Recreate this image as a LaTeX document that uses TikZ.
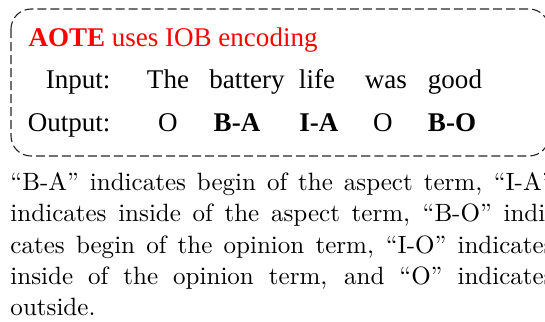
\documentclass[tikz,border=0pt]{standalone}
\usepackage{fontspec}
\usepackage{xcolor}
\usetikzlibrary{positioning}
\newfontfamily\timesfont{Liberation Serif}
\definecolor{titlered}{RGB}{255,0,0}

\begin{document}
\begin{tikzpicture}[x=0.3995pt, y=-0.3995pt,
    word/.style={anchor=base, inner sep=0pt, font=\timesfont\fontsize{10.8}{12}\selectfont},
    lbl/.style={word, anchor=base east},
    tag/.style={word, font=\timesfont\bfseries\fontsize{10.8}{12}\selectfont},
    frame/.style={draw=black!85, line width=0.45pt, dash pattern=on 3.6pt off 1.6pt, rounded corners=8pt}]

\useasboundingbox (0,0) rectangle (545,322);
\clip (0,0) rectangle (545,322);

% Dashed frame
\draw [frame] (11,9) rectangle (549,156);

% Title
\node (title) [word, anchor=base west, text=titlered] at (28,46)
    {\textbf{AOTE} uses IOB encoding};

% Input row
\node (inlbl) [lbl] at (111,88) {Input:};
\node (w1) [word] at (168,88) {The};
\node (w2) [word] at (247,88) {battery};
\node (w3) [word] at (317,88) {life};
\node (w4) [word] at (386,88) {was};
\node (w5) [word] at (455,88) {good};

% Output row
\node (outlbl) [lbl] at (111,132) {Output:};
\node (t1) [word] at (168,132) {O};
\node (t2) [tag]  at (237,132) {B-A};
\node (t3) [tag]  at (319,132) {I-A};
\node (t4) [word] at (383,132) {O};
\node (t5) [tag]  at (452,132) {B-O};

% Caption text below the frame
\node (caption) [anchor=north west, inner sep=0pt, text width=217pt, align=justify,
    font=\fontsize{10}{12.5}\selectfont] at (10,172)
    {“B-A” indicates begin of the aspect term, “I-A”\linebreak
     indicates inside of the aspect term, “B-O” indi-\linebreak
     cates begin of the opinion term, “I-O” indicates\linebreak
     inside of the opinion term, and “O” indicates\linebreak
     outside.};
\end{tikzpicture}
\end{document}
